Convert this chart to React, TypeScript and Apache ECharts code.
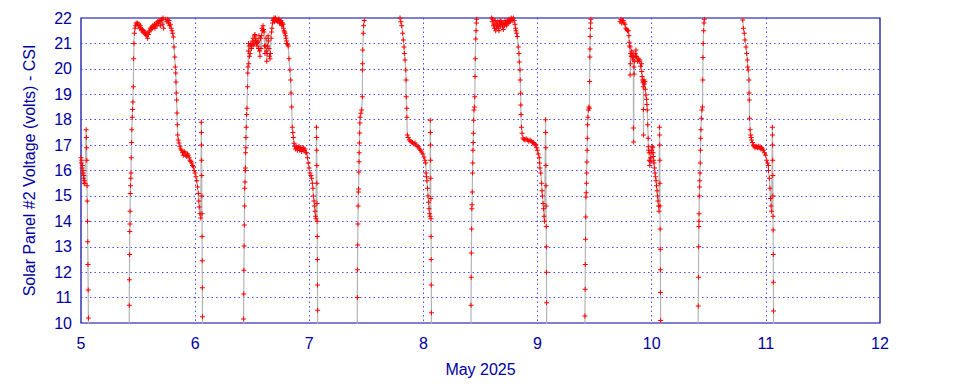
import React, { useEffect, useRef } from "react";
import * as echarts from "echarts";

type P = [number, number];

// x = day of May 2025 (fractional), y = volts
const xTicks = { min: 5, max: 12, interval: 1 };
const yTicks = { min: 10, max: 22, interval: 1 };

const tailMay5: P[] = [
  [5.000,16.5],[5.003,16.3],[5.006,16.4],[5.009,16.1],[5.012,16.2],[5.015,15.9],[5.018,16.0],[5.021,15.7],[5.024,15.8],[5.027,15.5],[5.030,15.6],[5.034,15.5],
  [5.045,17.6],[5.047,17.3],[5.049,16.9],[5.051,16.4],[5.053,15.4],[5.055,14.8],[5.057,14.0],[5.059,13.2],[5.061,12.3],[5.063,11.3],[5.065,10.2],[5.068,8.5],
];

const day5: P[] = [
  [5.421,8.5],[5.423,10.7],[5.424,11.7],[5.426,12.7],[5.427,13.6],[5.429,13.9],[5.430,14.4],[5.432,15.1],[5.434,15.4],[5.436,15.7],[5.438,15.9],[5.440,16.5],[5.443,17.1],[5.445,17.6],[5.449,18.1],[5.452,18.4],[5.455,18.7],[5.458,19.3],[5.461,20.4],[5.464,21.0],[5.468,21.4],[5.473,21.6],[5.477,21.7],[5.483,21.8],[5.490,21.75],[5.497,21.8],[5.503,21.7],[5.508,21.75],[5.514,21.6],[5.520,21.7],[5.526,21.6],[5.532,21.5],[5.538,21.55],[5.543,21.45],[5.549,21.5],[5.555,21.4],[5.561,21.45],[5.567,21.35],[5.572,21.3],[5.578,21.4],[5.584,21.2],[5.590,21.35],[5.596,21.45],[5.602,21.5],[5.608,21.6],[5.613,21.55],[5.619,21.65],[5.625,21.6],[5.631,21.7],[5.637,21.65],[5.643,21.75],[5.648,21.6],[5.654,21.7],[5.660,21.8],[5.666,21.7],[5.672,21.85],[5.678,21.8],[5.683,21.9],[5.689,21.85],[5.695,21.7],[5.701,21.9],[5.707,21.95],[5.712,21.75],[5.718,22.0],[5.724,21.6],[5.730,22.05],[5.736,22.1],[5.742,21.95],[5.748,22.05],[5.753,21.85],[5.759,21.95],[5.765,21.8],[5.771,21.9],[5.777,21.7],[5.783,21.75],[5.790,21.6],[5.797,21.5],[5.803,21.4],[5.809,21.25],[5.815,20.86],[5.821,20.47],[5.826,20.07],[5.830,19.84],[5.832,19.48],[5.835,19.05],[5.838,18.77],[5.841,18.26],[5.844,17.8],[5.847,17.4],[5.852,17.2],[5.859,17.08],[5.866,16.95],[5.873,16.85],[5.882,16.8],[5.889,16.7],[5.896,16.6],[5.904,16.75],[5.911,16.7],[5.918,16.6],[5.926,16.55],[5.933,16.65],[5.940,16.6],[5.948,16.5],[5.955,16.4],[5.962,16.35],[5.970,16.3],[5.977,16.2],[5.984,16.15],[5.992,16.0],[5.999,15.9],[6.007,15.75],[6.014,15.6],[6.021,15.35],[6.028,15.1],[6.032,14.8],[6.036,14.56],[6.042,14.3],[6.049,14.13],
  [6.054,17.9],[6.055,17.5],[6.056,17.0],[6.057,16.4],[6.058,15.8],[6.059,15.0],[6.060,14.3],[6.061,13.4],[6.062,12.45],[6.063,11.39],[6.064,10.25],[6.066,8.5],
];

const day6: P[] = [
  [6.422,8.5],[6.424,10.16],[6.426,11.14],[6.427,12.08],[6.429,13.03],[6.431,13.86],[6.433,14.6],[6.434,15.3],[6.437,15.55],[6.439,16.0],[6.440,16.1],[6.442,16.7],[6.444,16.9],[6.445,17.3],[6.448,17.7],[6.451,18.2],[6.454,18.45],[6.459,19.3],[6.461,19.84],[6.463,20.07],[6.466,20.7],[6.468,21.0],[6.470,20.2],[6.472,20.9],[6.476,20.5],[6.481,20.6],[6.485,20.95],[6.489,21.0],[6.494,20.8],[6.498,20.9],[6.503,21.1],[6.507,21.2],[6.511,20.95],[6.516,21.0],[6.520,21.3],[6.524,21.35],[6.529,21.1],[6.533,21.2],[6.538,21.0],[6.542,20.9],[6.546,21.05],[6.551,21.1],[6.555,20.8],[6.560,21.3],[6.564,20.7],[6.568,20.5],[6.573,21.2],[6.577,20.8],[6.582,21.3],[6.586,21.6],[6.590,21.5],[6.595,21.7],[6.599,21.55],[6.603,21.45],[6.608,20.9],[6.612,20.6],[6.617,20.9],[6.621,21.2],[6.624,20.7],[6.627,20.3],[6.631,20.6],[6.634,20.9],[6.639,21.3],[6.643,21.1],[6.647,20.8],[6.652,20.5],[6.656,20.4],[6.660,20.6],[6.665,21.2],[6.669,21.45],[6.673,21.6],[6.678,21.8],[6.682,21.9],[6.687,21.95],[6.691,22.0],[6.695,21.85],[6.700,21.9],[6.704,22.0],[6.708,21.95],[6.713,21.9],[6.717,22.05],[6.722,21.9],[6.726,21.85],[6.731,21.95],[6.735,21.95],[6.739,21.8],[6.743,21.8],[6.748,21.85],[6.752,21.9],[6.757,21.75],[6.761,21.7],[6.765,21.8],[6.770,21.75],[6.774,21.6],[6.778,21.5],[6.783,21.45],[6.787,21.4],[6.792,21.3],[6.796,21.2],[6.800,21.1],[6.805,21.0],[6.810,20.95],[6.816,20.9],[6.822,20.4],[6.831,19.95],[6.837,19.56],[6.840,19.05],[6.846,18.5],[6.851,17.7],[6.856,17.5],[6.860,17.3],[6.866,17.07],[6.872,16.95],[6.878,16.85],[6.884,16.95],[6.890,16.9],[6.896,16.8],[6.902,16.9],[6.910,16.95],[6.917,16.8],[6.922,16.9],[6.927,16.85],[6.934,16.75],[6.941,16.85],[6.948,16.9],[6.955,16.8],[6.962,16.85],[6.969,16.7],[6.977,16.7],[6.984,16.5],[6.991,16.3],[6.998,16.1],[7.006,15.9],[7.014,15.8],[7.021,15.7],[7.027,15.5],[7.032,15.3],[7.036,15.0],[7.041,14.8],[7.045,14.6],[7.050,14.4],[7.055,14.2],[7.059,14.1],
  [7.063,17.7],[7.064,17.3],[7.065,16.8],[7.066,16.2],[7.067,15.5],[7.068,14.7],[7.069,14.0],[7.070,13.4],[7.071,12.5],[7.072,11.5],[7.073,10.5],[7.075,8.5],
];

const day7: P[] = [
  [7.419,8.5],[7.421,11.0],[7.422,12.1],[7.424,13.07],[7.426,13.9],[7.428,14.6],[7.430,15.15],[7.432,15.27],[7.434,15.94],[7.436,16.34],[7.437,16.7],[7.439,17.08],[7.441,17.48],[7.443,17.87],[7.445,18.1],[7.452,18.25],[7.459,18.38],[7.465,18.9],[7.466,19.95],[7.467,20.2],[7.468,20.74],[7.473,21.4],[7.476,21.7],[7.482,21.9],[7.488,22.5],[7.55,23.6],[7.65,23.8],[7.75,23.2],[7.788,22.3],
  [7.795,22.0],[7.802,21.85],[7.810,21.7],[7.818,21.4],[7.824,21.13],[7.830,20.86],[7.833,20.6],[7.839,20.35],[7.845,19.95],[7.848,19.56],[7.849,18.9],[7.854,18.45],[7.855,18.1],[7.859,17.4],[7.866,17.3],[7.876,17.2],[7.885,17.15],[7.897,17.12],[7.905,17.1],[7.915,17.05],[7.926,17.08],[7.935,17.0],[7.945,16.95],[7.955,16.93],[7.965,16.85],[7.975,16.8],[7.985,16.73],[7.995,16.65],[8.005,16.53],[8.013,16.4],[8.020,16.3],[8.023,15.9],[8.027,15.75],[8.031,15.6],[8.036,15.3],[8.040,15.0],[8.045,14.75],[8.049,14.5],[8.054,14.3],[8.058,14.2],
  [8.060,17.98],[8.061,17.5],[8.062,17.0],[8.063,16.4],[8.064,15.7],[8.065,14.9],[8.066,14.1],[8.067,13.4],[8.068,12.5],[8.069,11.5],[8.070,10.4],[8.072,8.5],
];

const day8: P[] = [
  [8.415,8.5],[8.417,10.7],[8.419,11.8],[8.420,12.75],[8.422,13.7],[8.424,14.5],[8.426,14.65],[8.428,15.15],[8.430,15.9],[8.432,16.3],[8.434,16.8],[8.436,17.1],[8.438,17.47],[8.440,17.98],[8.443,18.38],[8.447,18.5],[8.450,18.9],[8.452,19.7],[8.454,20.4],[8.458,21.17],[8.461,21.5],[8.464,21.8],[8.466,21.95],[8.472,22.4],[8.52,23.0],[8.56,22.8],[8.590,22.2],
  [8.598,22.0],[8.603,21.85],[8.608,21.95],[8.613,21.7],[8.618,21.75],[8.623,21.6],[8.628,21.9],[8.633,21.5],[8.638,21.8],[8.642,21.6],[8.647,21.7],[8.652,21.85],[8.657,21.6],[8.662,21.5],[8.667,21.75],[8.672,21.9],[8.676,21.7],[8.681,21.85],[8.686,21.8],[8.691,21.65],[8.696,21.75],[8.700,21.55],[8.705,21.8],[8.710,21.7],[8.715,21.9],[8.720,21.75],[8.725,21.8],[8.729,21.7],[8.734,21.85],[8.739,21.9],[8.744,21.8],[8.749,21.95],[8.754,21.85],[8.759,21.85],[8.764,21.9],[8.769,22.0],[8.774,21.95],[8.779,22.05],[8.783,21.9],[8.788,22.0],[8.795,21.9],[8.802,21.75],[8.807,21.6],[8.811,21.5],[8.817,21.4],[8.822,21.27],[8.831,20.86],[8.837,20.6],[8.840,20.27],[8.846,19.95],[8.848,19.56],[8.852,19.04],[8.853,18.58],[8.855,18.2],[8.859,17.7],[8.864,17.47],[8.872,17.28],[8.881,17.22],[8.890,17.2],[8.900,17.25],[8.912,17.2],[8.923,17.15],[8.934,17.2],[8.945,17.15],[8.954,17.1],[8.963,17.1],[8.972,17.05],[8.980,17.0],[8.986,17.0],[8.992,16.9],[8.998,16.8],[9.006,16.65],[9.015,16.5],[9.018,16.3],[9.021,16.1],[9.028,15.9],[9.035,15.5],[9.039,15.2],[9.043,15.0],[9.048,14.7],[9.052,14.5],[9.057,14.2],[9.061,14.0],
  [9.070,18.0],[9.071,17.5],[9.072,16.9],[9.073,16.2],[9.074,15.4],[9.075,14.6],[9.076,13.8],[9.077,13.0],[9.078,12.0],[9.079,10.8],[9.081,8.5],
];

const day9: P[] = [
  [9.413,8.5],[9.415,10.28],[9.417,11.33],[9.418,12.3],[9.420,13.3],[9.422,14.17],[9.424,14.96],[9.426,15.12],[9.428,15.5],[9.430,15.9],[9.432,16.33],[9.434,16.8],[9.436,17.27],[9.438,17.8],[9.441,18.1],[9.445,18.38],[9.450,18.5],[9.454,18.45],[9.456,19.5],[9.458,20.47],[9.459,20.78],[9.461,21.27],[9.463,21.6],[9.465,21.8],[9.467,21.95],[9.472,22.5],[9.55,23.6],[9.65,23.4],[9.712,22.3],
  [9.722,21.85],[9.730,21.95],[9.737,21.8],[9.744,21.9],[9.751,21.9],[9.758,21.8],[9.766,21.75],[9.773,21.6],[9.781,21.55],[9.788,21.5],[9.795,21.5],[9.800,21.3],[9.803,21.05],[9.807,20.9],[9.810,20.86],[9.811,19.76],[9.813,20.2],[9.816,20.6],[9.820,20.5],[9.825,20.7],[9.829,20.5],[9.834,20.35],[9.837,20.6],[9.839,20.47],[9.840,17.67],[9.842,17.12],[9.844,20.07],[9.846,19.8],[9.850,20.3],[9.855,20.6],[9.859,20.5],[9.862,20.74],[9.865,20.5],[9.868,20.47],[9.875,20.3],[9.882,20.4],[9.889,20.3],[9.896,20.35],[9.903,20.1],[9.911,20.2],[9.912,19.9],[9.916,19.7],[9.920,19.56],[9.924,19.45],[9.926,19.3],[9.927,18.4],[9.928,17.4],[9.930,19.5],[9.932,19.56],[9.936,19.4],[9.940,19.5],[9.944,19.2],[9.949,18.97],[9.955,18.8],[9.958,18.6],[9.961,18.38],[9.965,17.8],[9.969,17.27],[9.970,16.93],[9.974,16.8],[9.978,16.7],[9.979,16.4],[9.983,16.2],[9.987,16.35],[9.991,16.5],[9.995,16.7],[10.000,16.8],[10.004,16.95],[10.009,16.9],[10.012,16.7],[10.014,16.55],[10.017,16.4],[10.020,16.3],[10.025,16.1],[10.029,15.9],[10.034,15.75],[10.038,15.6],[10.042,15.4],[10.047,15.2],[10.051,15.0],[10.055,14.8],[10.060,14.6],[10.064,14.4],
  [10.068,17.7],[10.069,17.4],[10.070,17.0],[10.071,16.4],[10.072,15.5],[10.073,14.6],[10.074,13.7],[10.075,12.9],[10.076,12.1],[10.077,11.2],[10.078,10.1],[10.080,8.5],
];

const day10: P[] = [
  [10.406,8.5],[10.408,10.67],[10.410,11.8],[10.411,13.0],[10.413,13.8],[10.414,14.0],[10.415,14.3],[10.417,15.0],[10.419,15.35],[10.421,15.6],[10.423,15.9],[10.425,16.3],[10.427,16.8],[10.429,17.27],[10.431,17.6],[10.435,18.06],[10.440,18.38],[10.445,18.5],[10.447,19.56],[10.449,20.45],[10.451,21.0],[10.455,21.5],[10.458,21.8],[10.461,21.95],[10.467,22.6],[10.55,23.6],[10.70,23.5],[10.790,22.3],
  [10.797,21.92],[10.803,21.6],[10.811,21.4],[10.817,21.13],[10.826,20.86],[10.832,20.6],[10.838,20.35],[10.841,20.07],[10.846,19.95],[10.852,19.56],[10.853,19.05],[10.855,18.77],[10.857,18.06],[10.862,17.6],[10.867,17.4],[10.871,17.3],[10.875,17.2],[10.882,17.1],[10.890,17.0],[10.897,16.95],[10.905,16.9],[10.912,16.95],[10.919,16.93],[10.927,16.9],[10.934,16.95],[10.941,16.9],[10.949,16.93],[10.956,16.85],[10.963,16.9],[10.971,16.85],[10.978,16.8],[10.988,16.7],[10.998,16.6],[11.007,16.4],[11.015,16.3],[11.022,16.2],[11.023,16.0],[11.031,15.7],[11.036,15.3],[11.041,14.9],[11.046,14.6],[11.050,14.4],
  [11.057,17.7],[11.058,17.4],[11.059,17.0],[11.060,16.4],[11.061,15.8],[11.062,15.0],[11.063,14.2],[11.064,13.66],[11.065,12.7],[11.066,11.6],[11.067,10.47],[11.069,8.5],
];

const allPoints: P[] = [...tailMay5, ...day5, ...day6, ...day7, ...day8, ...day9, ...day10];

const yName = "Solar Panel #2 Voltage (volts) - CSI";
const xName = "May 2025";

const TEXT = "#0000a0";
const GRID = "#2a2aff";
const FONT = "Liberation Sans, Arial, sans-serif";

export default function App() {
  const ref = useRef<HTMLDivElement>(null);
  useEffect(() => {
    if (!ref.current) return;
    const chart = echarts.init(ref.current, undefined, { renderer: "svg" });
    chart.setOption({
      animation: false,
      backgroundColor: "#ffffff",
      grid: {
        left: 81,
        right: 80,
        top: 18,
        bottom: 61,
        show: true,
        borderColor: TEXT,
        borderWidth: 1.2,
        backgroundColor: "transparent",
      },
      xAxis: {
        type: "value",
        min: xTicks.min,
        max: xTicks.max,
        interval: xTicks.interval,
        name: xName,
        nameLocation: "middle",
        nameGap: 38,
        nameTextStyle: { color: TEXT, fontSize: 16, fontFamily: FONT },
        axisLine: { show: false },
        axisTick: { show: false },
        axisLabel: { color: TEXT, fontSize: 16, fontFamily: FONT, margin: 12 },
        splitLine: {
          show: true,
          showMinLine: false,
          showMaxLine: false,
          lineStyle: { color: GRID, width: 1, type: [1.5, 3], opacity: 0.85 },
        },
      },
      yAxis: {
        type: "value",
        min: yTicks.min,
        max: yTicks.max,
        interval: yTicks.interval,
        name: yName,
        nameLocation: "middle",
        nameGap: 44,
        nameTextStyle: { color: TEXT, fontSize: 16, fontFamily: FONT },
        axisLine: { show: false },
        axisTick: { show: false },
        axisLabel: { color: TEXT, fontSize: 16, fontFamily: FONT, margin: 9 },
        splitLine: {
          show: true,
          showMinLine: false,
          showMaxLine: false,
          lineStyle: { color: GRID, width: 1, type: [1.5, 3], opacity: 0.85 },
        },
      },
      series: [
        {
          type: "line",
          data: allPoints,
          clip: true,
          showAllSymbol: true,
          symbol: "path://M2,0h1v5h-1zM0,2h5v1h-5z",
          symbolSize: 5,
          itemStyle: { color: "#ff0000" },
          lineStyle: { color: "#b4b4b4", width: 1.2 },
          emphasis: { disabled: true },
          z: 3,
        },
      ],
    });
    return () => chart.dispose();
  }, []);
  return (
    <div
      ref={ref}
      style={{ position: "absolute", left: 0, top: 0, width: 960, height: 384 }}
    />
  );
}
